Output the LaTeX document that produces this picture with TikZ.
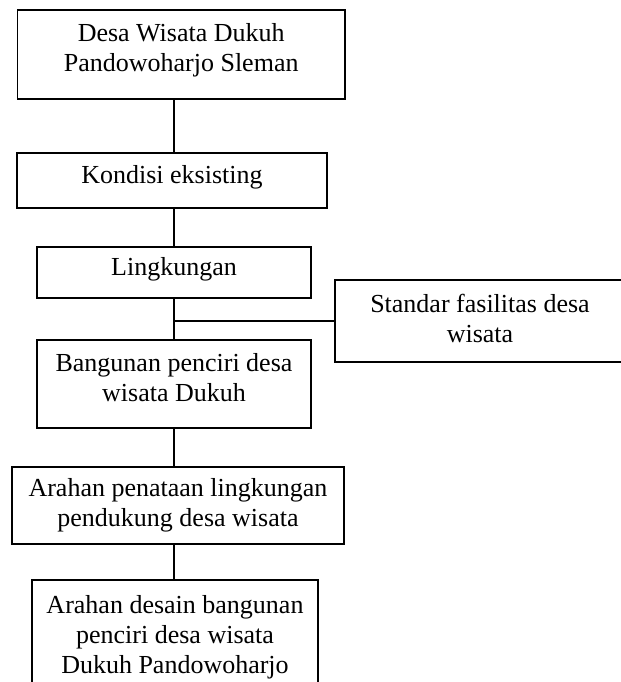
\documentclass[tikz,border=0pt]{standalone}
\usepackage{fontspec}
\setmainfont{Liberation Serif}
\usepackage{tikz}
\usetikzlibrary{positioning}
\tikzstyle{block} = [draw, rectangle, line width=0.9pt, inner sep=0pt, font=\fontsize{19.5}{22.5}\selectfont]
\tikzstyle{line} = [draw, line width=0.9pt]
\newcommand{\boxlines}[2][2pt]{\raisebox{#1}[\height][\depth]{\begin{tabular}{@{}c@{}}#2\end{tabular}}}

\begin{document}
\begin{tikzpicture}[auto, node distance=3cm]

\useasboundingbox (0,0) rectangle (465.75pt,-511.5pt);

\node [block, minimum width=245.6pt, minimum height=66.75pt] at (135.9pt,-40.9pt) (desa) {\boxlines[3pt]{Desa Wisata Dukuh\\Pandowoharjo Sleman}};
\node [block, below of=desa, node distance=94.5pt, xshift=-6.9pt, minimum width=232.5pt, minimum height=41.25pt] (kondisi) {\boxlines{Kondisi eksisting}};
\node [block, below of=kondisi, node distance=69pt, xshift=1.5pt, minimum width=205.5pt, minimum height=38.25pt] (lingkungan) {\boxlines{Lingkungan}};
\node [block, below of=lingkungan, node distance=83.6pt, minimum width=205.5pt, minimum height=66pt] (bangunan) {\boxlines[3pt]{Bangunan penciri desa\\wisata Dukuh}};
\node [block, below of=bangunan, node distance=91.1pt, xshift=3pt, minimum width=249pt, minimum height=57.75pt] (penataan) {\boxlines[0pt]{Arahan penataan lingkungan\\pendukung desa wisata}};
\node [block, below of=penataan, node distance=100.9pt, xshift=-2.25pt, minimum width=214.5pt, minimum height=90pt] (desain) {\boxlines{Arahan desain bangunan\\penciri desa wisata\\Dukuh Pandowoharjo}};

\node [block, right of=lingkungan, node distance=229.5pt, yshift=-36.35pt, minimum width=217.5pt, minimum height=61.5pt] (standar) {\boxlines[0pt]{Standar fasilitas desa\\wisata}};

\draw [line] (desa.south -| lingkungan) -- (kondisi.north -| lingkungan);
\draw [line] (kondisi.south -| lingkungan) -- (lingkungan);
\draw [line] (lingkungan) -- (bangunan);
\draw [line] (bangunan.south -| lingkungan) -- (penataan.north -| lingkungan);
\draw [line] (penataan.south -| lingkungan) -- (desain.north -| lingkungan);
\draw [line] (standar.west) -- (standar.west -| lingkungan);

\end{tikzpicture}
\end{document}
